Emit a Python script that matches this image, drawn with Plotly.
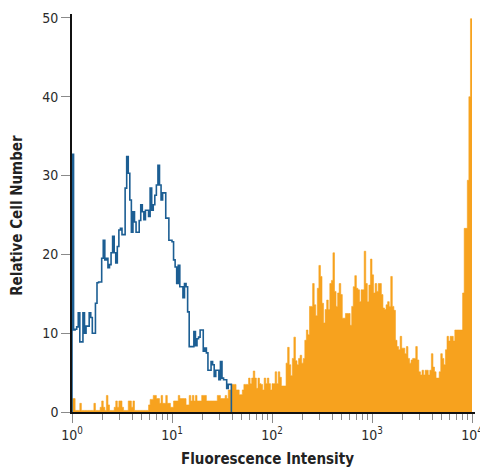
import numpy as np
import plotly.graph_objects as go

# Flow-cytometry histogram: 256 channels spread over 4 log decades
CHANNELS = 256
DECADES = 4

# Orange (stained) histogram, counts per channel 0..255
orange_counts = [
    1.7, 1.7, 0.2, 0.2, 0.2, 1.1, 0.2, 0.2, 0.2, 0.2,
    0.2, 0.2, 0.2, 0.2, 1.1, 0.2, 0.2, 0.2, 0.6, 1.4,
    0.6, 0.2, 2.1, 0.9, 0.2, 0.2, 0.2, 0.6, 1.4, 0.6,
    1.4, 1.4, 0.6, 0.2, 0.2, 0.2, 1.4, 1.4, 0.6, 1.4,
    0.2, 0.2, 0.2, 0.2, 0.2, 0.2, 0.2, 0.2, 0.2, 0.9,
    1.6, 1.6, 2.1, 2.1, 1.7, 1.7, 1.1, 2.1, 1.1, 1.1,
    2.1, 1.1, 1.1, 0.6, 0.6, 1.4, 1.4, 1.4, 2.1, 1.7,
    1.7, 1.7, 1.7, 0.9, 0.9, 2.1, 1.4, 2.1, 1.4, 2.1,
    1.4, 1.4, 1.4, 2.1, 2.1, 2.1, 1.4, 1.4, 1.4, 1.4,
    1.4, 1.4, 1.4, 2.1, 2.1, 1.7, 1.7, 1.7, 2.1, 1.7,
    2.8, 2.8, 3.5, 3.5, 3.5, 2.8, 2.8, 2.2, 2.2, 2.8,
    3.5, 3.5, 3.5, 4.3, 3.6, 4.3, 5.2, 4.3, 3.0, 4.3,
    3.6, 3.5, 2.8, 4.3, 3.6, 4.3, 3.6, 2.8, 3.6, 3.6,
    5.1, 3.6, 5.1, 4.4, 3.3, 3.3, 3.3, 6.2, 8.2, 6.0,
    4.6, 6.8, 9.5, 6.5, 6.0, 6.8, 7.2, 6.2, 6.8, 9.1,
    10.4, 9.8, 13.4, 13.4, 16.3, 13.6, 12.2, 15.7, 18.6, 17.2,
    13.8, 11.3, 13.0, 14.2, 13.0, 16.3, 16.7, 20.2, 15.3, 13.4,
    15.1, 16.3, 14.9, 11.9, 11.9, 12.5, 12.5, 12.5, 11.0, 13.4,
    15.9, 17.3, 15.7, 15.5, 14.0, 15.5, 15.5, 20.4, 16.3, 14.0,
    16.1, 19.4, 17.4, 15.1, 16.3, 15.3, 16.3, 16.3, 14.9, 13.2,
    13.0, 13.6, 14.0, 13.4, 17.2, 13.4, 12.9, 9.1, 8.3, 7.9,
    9.6, 8.1, 8.1, 7.4, 8.3, 6.8, 6.2, 6.6, 6.8, 6.8,
    8.3, 6.6, 5.1, 4.7, 5.3, 4.7, 5.3, 5.3, 4.7, 5.3,
    7.4, 5.7, 5.1, 4.3, 4.3, 5.1, 7.4, 6.8, 6.0, 7.9,
    9.6, 9.0, 9.6, 9.6, 9.0, 10.4, 10.4, 10.4, 10.4, 10.4,
    15.1, 23.3, 23.3, 29.4, 40.0, 49.9,
]

# Blue (isotype control) histogram, channels 0..101
blue_counts = [
    32.7, 10.4, 10.5, 10.8, 12.6, 8.9, 8.9, 12.6, 10.0, 10.9,
    10.9, 12.6, 12.0, 10.0, 10.0, 13.8, 16.4, 16.5, 16.5, 19.5,
    21.8, 19.3, 19.5, 18.3, 18.7, 20.2, 22.3, 20.2, 18.9, 21.0,
    23.1, 23.3, 22.5, 22.5, 28.4, 32.4, 30.3, 26.9, 22.8, 25.4,
    24.1, 22.8, 22.8, 24.3, 26.3, 25.4, 24.4, 25.6, 25.6, 24.8,
    28.4, 25.6, 26.3, 27.5, 28.8, 31.3, 28.8, 26.9, 27.8, 27.8,
    24.6, 24.6, 21.8, 21.8, 21.6, 19.3, 18.4, 16.3, 18.6, 15.9,
    15.9, 14.5, 16.3, 15.9, 12.7, 8.3, 8.3, 8.3, 10.2, 8.4,
    9.3, 9.5, 10.4, 10.4, 7.7, 8.1, 7.5, 5.3, 5.3, 6.4,
    6.0, 4.5, 5.3, 5.3, 4.1, 6.4, 4.3, 4.1, 4.1, 3.0,
    3.5, 3.5,
]

y_ticks = [0, 10, 20, 30, 40, 50]
x_tick_vals = [1, 10, 100, 1000, 10000]
x_tick_text = ["10<sup>0</sup>", "10<sup>1</sup>", "10<sup>2</sup>", "10<sup>3</sup>", "10<sup>4</sup>"]
x_minor_vals = [m * 10 ** d for d in range(4) for m in range(2, 10)]
x_title = "Fluorescence Intensity"
y_title = "Relative Cell Number"

ORANGE = "#F7A21E"
BLUE = "#1C5E93"
FONT = "DejaVu Sans Condensed, Liberation Sans Narrow, Arial Narrow, sans-serif"

edges = 10 ** (np.arange(CHANNELS + 1) * DECADES / CHANNELS)

# orange filled step histogram
ox = list(edges[:len(orange_counts) + 1])
oy = list(orange_counts) + [orange_counts[-1]]

# blue outline step histogram (starts and ends on the baseline)
nb = len(blue_counts)
bx = [edges[0]] + list(edges[:nb]) + [edges[nb]]
by = [0] + list(blue_counts) + [0]

fig = go.Figure()
fig.add_trace(go.Scatter(
    x=ox, y=oy, mode="lines", line=dict(shape="hv", color=ORANGE, width=0.6),
    fill="tozeroy", fillcolor=ORANGE, hoverinfo="skip", showlegend=False,
))
fig.add_trace(go.Scatter(
    x=bx, y=by, mode="lines", line=dict(shape="hv", color=BLUE, width=1.6),
    hoverinfo="skip", showlegend=False,
))

fig.update_layout(
    width=480, height=468,
    margin=dict(l=72, r=5, t=14, b=56),
    paper_bgcolor="white", plot_bgcolor="white",
    font=dict(family=FONT, color="#2a2a2a", size=14),
    showlegend=False,
    annotations=[
        dict(text="<b>" + x_title + "</b>", xref="paper", yref="paper",
             x=0.484, y=-0.118, xanchor="center", yanchor="middle",
             showarrow=False, font=dict(size=15, color="#222222")),
        dict(text="<b>" + y_title + "</b>", xref="paper", yref="paper",
             x=-0.137, y=0.495, xanchor="center", yanchor="middle",
             textangle=-90, showarrow=False, font=dict(size=15, color="#222222")),
    ],
)
fig.update_xaxes(
    type="log", range=[0, 4.03], automargin=False, ticklabeloverflow="allow",
    tickmode="array", tickvals=x_tick_vals, ticktext=x_tick_text,
    ticks="outside", ticklen=9, tickwidth=1.3, tickcolor="#8a8a8a",
    minor=dict(tickmode="array", tickvals=x_minor_vals, ticks="outside",
               ticklen=6, tickwidth=1.1, tickcolor="#8a8a8a"),
    showline=True, linecolor="#111111", linewidth=1.6,
    showgrid=False, zeroline=False,
    tickfont=dict(size=14, color="#2a2a2a"),
)
fig.update_yaxes(
    range=[0, 50.5], automargin=False,
    tickmode="array", tickvals=y_ticks,
    ticks="outside", ticklen=9, tickwidth=1.3, tickcolor="#8a8a8a",
    showline=True, linecolor="#111111", linewidth=1.6,
    showgrid=False, zeroline=False,
    tickfont=dict(size=14, color="#2a2a2a"),
)

fig.write_html("out.html", config={"displayModeBar": False},
               post_script="document.body.style.margin='0';")
